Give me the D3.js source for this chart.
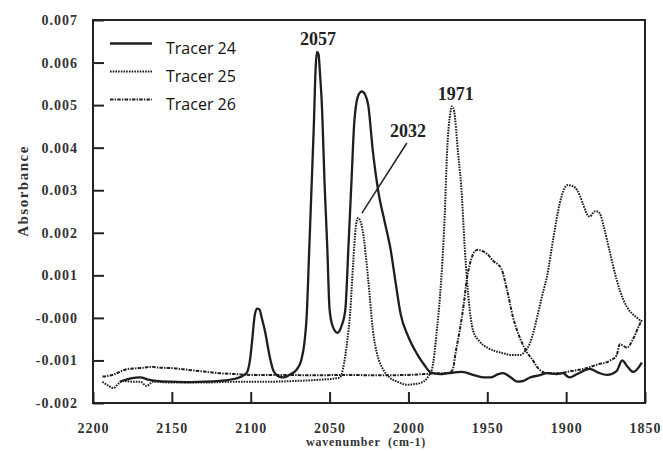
<!DOCTYPE html>
<html>
<head>
<meta charset="utf-8">
<script src="https://cdn.jsdelivr.net/npm/d3@7"></script>
<style>
  body { margin: 0; background: #fff; }
  .tick text { font-family: "Liberation Serif", serif; font-weight: bold; font-size: 14px; letter-spacing: 1px; fill: #333; }
</style>
</head>
<body>
<script>
// wavenumber (cm-1), absorbance
var tracer24 = [
  [2183,-0.00150],[2176,-0.00142],[2170,-0.00140],[2165,-0.00145],[2160,-0.00148],[2150,-0.00150],
  [2140,-0.00151],[2130,-0.00150],[2120,-0.00148],[2110,-0.00143],[2104,-0.00134],[2102,-0.00125],
  [2100.5,-0.00100],[2099,-0.00050],[2097.5,0.00005],[2096,0.00022],[2094.5,0.00020],[2093,0.00000],
  [2091,-0.00030],[2088,-0.00090],[2085.5,-0.00125],[2082,-0.00138],[2079,-0.00140],[2075,-0.00133],
  [2071,-0.00122],[2068,-0.00100],[2066,-0.00060],[2064.5,0.00005],[2063,0.00150],[2061.5,0.00300],
  [2060,0.00450],[2058.8,0.00590],[2058,0.00625],[2057,0.00620],[2056,0.00570],[2055,0.00510],
  [2053,0.00300],[2051.5,0.00170],[2050,0.00020],[2048,-0.00020],[2045,-0.00035],[2042.5,-0.00020],
  [2040,0.00020],[2038,0.00170],[2036,0.00330],[2034.5,0.00450],[2033,0.00505],[2031,0.00528],
  [2029.5,0.00532],[2027.5,0.00525],[2025.5,0.00500],[2022.5,0.00390],[2019,0.00295],[2015,0.00225],
  [2011.5,0.00165],[2008,0.00080],[2005,0.00010],[2000,-0.00045],[1994.5,-0.00085],[1990,-0.00110],
  [1986,-0.00128],[1980,-0.00132],[1975,-0.00130],[1966,-0.00127],[1958,-0.00135],[1952,-0.00140],
  [1948,-0.00140],[1943,-0.00132],[1940,-0.00130],[1935,-0.00140],[1931,-0.00150],[1927,-0.00148],
  [1923,-0.00140],[1917,-0.00135],[1912,-0.00130],[1906,-0.00132],[1902,-0.00130],[1898,-0.00140],
  [1893,-0.00132],[1885,-0.00120],[1880,-0.00128],[1874,-0.00134],[1868,-0.00125],[1864.5,-0.00100],
  [1861,-0.00115],[1857.5,-0.00127],[1852,-0.00105]
];

var tracer25 = [
  [2194,-0.00150],[2190,-0.00160],[2187,-0.00165],[2184,-0.00155],[2181,-0.00148],[2175,-0.00150],
  [2170,-0.00150],[2166,-0.00160],[2162,-0.00150],[2150,-0.00152],[2130,-0.00152],[2110,-0.00150],
  [2090,-0.00150],[2070,-0.00148],[2055,-0.00145],[2046,-0.00142],[2043.5,-0.00140],[2041.5,-0.00120],
  [2039,-0.00060],[2037,0.00010],[2035,0.00130],[2033.5,0.00210],[2032,0.00235],[2030.5,0.00228],
  [2029,0.00205],[2025.5,0.00090],[2022.5,-0.00030],[2019.5,-0.00090],[2016.5,-0.00118],[2012,-0.00140],
  [2007,-0.00150],[2001,-0.00157],[1995,-0.00155],[1990.5,-0.00150],[1987,-0.00135],[1985,-0.00120],
  [1982,-0.00030],[1980,0.00050],[1977,0.00240],[1975.5,0.00390],[1973.5,0.00480],[1972.3,0.00497],
  [1971,0.00485],[1968.6,0.00390],[1966,0.00280],[1965,0.00210],[1962,0.00050],[1959,-0.00030],
  [1955,-0.00055],[1950,-0.00070],[1945,-0.00078],[1940,-0.00083],[1935,-0.00087],[1929,-0.00087],
  [1926,-0.00078],[1923,-0.00060],[1920.5,-0.00030],[1918.5,0.00000],[1915,0.00055],[1912,0.00100],
  [1908,0.00190],[1904,0.00270],[1901,0.00305],[1899,0.00312],[1896,0.00310],[1893,0.00300],
  [1889.5,0.00270],[1887,0.00245],[1885,0.00238],[1882,0.00250],[1880,0.00250],[1878,0.00240],
  [1876.5,0.00220],[1872,0.00150],[1868,0.00090],[1864,0.00045],[1861.5,0.00026],[1855,0.00000],
  [1852,-0.00008]
];

var tracer26 = [
  [2194,-0.00138],[2190,-0.00136],[2186,-0.00132],[2182,-0.00125],[2178,-0.00120],[2170,-0.00118],
  [2163,-0.00115],[2158,-0.00117],[2150,-0.00118],[2140,-0.00122],[2130,-0.00126],[2120,-0.00130],
  [2110,-0.00132],[2100,-0.00134],[2080,-0.00134],[2060,-0.00135],[2040,-0.00134],[2020,-0.00135],
  [2000,-0.00134],[1990,-0.00132],[1980,-0.00130],[1975,-0.00130],[1972,-0.00122],[1970,-0.00080],
  [1967.5,-0.00030],[1965,0.00030],[1963,0.00090],[1960,0.00140],[1958,0.00156],[1956,0.00160],
  [1953,0.00157],[1950,0.00150],[1946,0.00133],[1943,0.00125],[1941,0.00115],[1937.5,0.00066],
  [1933.7,0.00002],[1929,-0.00050],[1925,-0.00080],[1921,-0.00100],[1918.5,-0.00115],[1912,-0.00130],
  [1905,-0.00130],[1897,-0.00125],[1889,-0.00120],[1880.5,-0.00110],[1872,-0.00100],[1868,-0.00088],
  [1866,-0.00062],[1864,-0.00065],[1861.6,-0.00070],[1857.6,-0.00050],[1854,-0.00020],[1852,-0.00005]
];

var seriesNames = ["Tracer 24", "Tracer 25", "Tracer 26"];
var xTicks = [2200, 2150, 2100, 2050, 2000, 1950, 1900, 1850];
var yTicks = [-0.002, -0.001, 0, 0.001, 0.002, 0.003, 0.004, 0.005, 0.006, 0.007];

// peak labels: text, label position (wn, abs), optional leader line end
var peakLabels = [
  { text: "2057", wn: 2057.3, abs: 0.00641 },
  { text: "1971", wn: 1970.0, abs: 0.00512 },
  { text: "2032", wn: 2000.3, abs: 0.00425, lineFrom: [2001, 0.00411], lineTo: [2029.5, 0.00246] }
];

var width = 663, height = 451;
var margin = { top: 20, right: 18, bottom: 48, left: 93 };

var svg = d3.select("body").append("svg")
    .attr("width", width)
    .attr("height", height);

var x = d3.scaleLinear().domain([2200, 1850]).range([margin.left, width - margin.right]);
var y = d3.scaleLinear().domain([-0.002, 0.007]).range([height - margin.bottom, margin.top]);

var styles = [
  { dash: null, w: 2.3 },
  { dash: "1.6,1.1", w: 2.0 },
  { dash: "3.5,1.2,1.4,1.2", w: 2.0 }
];

function fmt(d) {
  if (Math.abs(d) < 1e-9) return "-0.000";
  return (d < 0 ? "-" : "") + Math.abs(d).toFixed(3);
}

// axes (ticks pointing inward)
svg.append("g")
    .attr("transform", "translate(0," + y(-0.002) + ")")
    .call(d3.axisBottom(x).tickValues(xTicks).tickSizeInner(-11).tickSizeOuter(0).tickPadding(20).tickFormat(d3.format("d")))
    .call(function(g) { g.select(".domain").remove(); })
    .call(function(g) { g.selectAll(".tick line").attr("stroke", "#222").attr("stroke-width", 2); });

svg.append("g")
    .attr("transform", "translate(" + x(2200) + ",0)")
    .call(d3.axisLeft(y).tickValues(yTicks).tickSizeInner(-11).tickSizeOuter(0).tickPadding(15).tickFormat(fmt))
    .call(function(g) { g.select(".domain").remove(); })
    .call(function(g) { g.selectAll(".tick line").attr("stroke", "#222").attr("stroke-width", 2); });

// frame
svg.append("rect")
    .attr("x", x(2200))
    .attr("y", y(0.007))
    .attr("width", x(1850) - x(2200))
    .attr("height", y(-0.002) - y(0.007))
    .attr("fill", "none")
    .attr("stroke", "#222")
    .attr("stroke-width", 2);

// curves
var line = d3.line()
    .x(function(d) { return x(d[0]); })
    .y(function(d) { return y(d[1]); })
    .curve(d3.curveMonotoneX);

[tracer24, tracer25, tracer26].forEach(function(data, i) {
  svg.append("path")
      .datum(data)
      .attr("d", line)
      .attr("fill", "none")
      .attr("stroke", "#1e1e1e")
      .attr("stroke-width", styles[i].w)
      .attr("stroke-dasharray", styles[i].dash)
      .attr("stroke-linejoin", "round");
});

// peak labels
peakLabels.forEach(function(p) {
  svg.append("text")
      .attr("x", x(p.wn))
      .attr("y", y(p.abs))
      .attr("text-anchor", "middle")
      .style("font-family", "Liberation Serif, serif")
      .style("font-weight", "bold")
      .style("font-size", "18px")
      .style("fill", "#222")
      .text(p.text);
  if (p.lineFrom) {
    svg.append("line")
        .attr("x1", x(p.lineFrom[0])).attr("y1", y(p.lineFrom[1]))
        .attr("x2", x(p.lineTo[0])).attr("y2", y(p.lineTo[1]))
        .attr("stroke", "#222")
        .attr("stroke-width", 1.5);
  }
});

// legend
var legend = svg.append("g").attr("transform", "translate(110,0)");
seriesNames.forEach(function(name, i) {
  var ly = 43.5 + i * 28;
  legend.append("line")
      .attr("x1", 0).attr("x2", 42)
      .attr("y1", ly).attr("y2", ly)
      .attr("stroke", "#1e1e1e")
      .attr("stroke-width", styles[i].w)
      .attr("stroke-dasharray", styles[i].dash);
  legend.append("text")
      .attr("x", 56)
      .attr("y", ly + 10.5)
      .style("font-family", "Open Sans, sans-serif")
      .style("font-size", "16px")
      .style("fill", "#111")
      .text(name);
});

// axis titles
svg.append("text")
    .attr("x", 366)
    .attr("y", 446)
    .attr("text-anchor", "middle")
    .style("font-family", "Liberation Serif, serif")
    .style("font-weight", "bold")
    .style("font-size", "12px")
    .style("letter-spacing", "0.8px")
    .style("fill", "#333")
    .style("white-space", "pre")
    .text("wavenumber  (cm-1)");

svg.append("text")
    .attr("transform", "translate(28,191) rotate(-90)")
    .attr("text-anchor", "middle")
    .style("font-family", "Liberation Serif, serif")
    .style("font-weight", "bold")
    .style("font-size", "15px")
    .style("letter-spacing", "1.5px")
    .style("fill", "#333")
    .text("Absorbance");
</script>
</body>
</html>
